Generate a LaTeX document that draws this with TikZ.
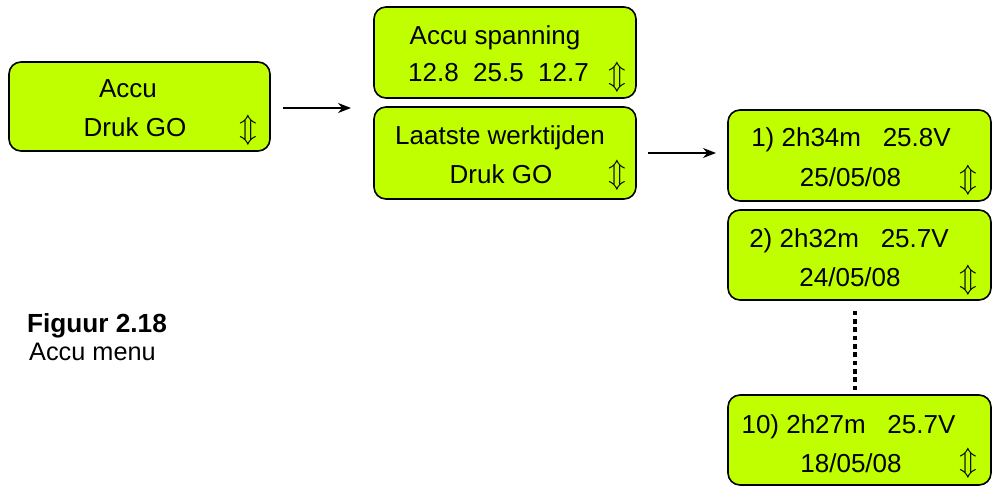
\documentclass[tikz,border=0pt]{standalone}
\usepackage{fontspec}
\setmainfont{Liberation Sans}
\usepackage{graphicx}
\usetikzlibrary{arrows.meta}
\definecolor{lcd}{RGB}{192,255,0}
\tikzset{
  lcdbox/.style={draw=black, line width=1.6pt, fill=lcd, rounded corners=12pt, inner sep=0pt},
  txt/.style={anchor=base, inner sep=0pt, font=\fontsize{26}{30}\selectfont},
  captxt/.style={anchor=base, inner sep=0pt, font=\fontsize{25.3}{28}\selectfont},
  updn/.style={inner sep=0pt},
  conn/.style={line width=1.4pt, -{Stealth[length=13pt,width=10pt]}},
  dots/.style={line width=4.6pt, dash pattern=on 4.7pt off 3.6pt}
}
\newcommand{\updnsym}{\scalebox{2.9}{$\Updownarrow$}}
\begin{document}
\begin{tikzpicture}[x=1pt,y=-1pt]
\useasboundingbox (0,0) rectangle (1004,486);
% boxes
\node[lcdbox, minimum width=261pt, minimum height=89pt] (A) at (139.5,106.5) {};
\node[lcdbox, minimum width=262pt, minimum height=91pt] (B) at (505,52.5) {};
\node[lcdbox, minimum width=262pt, minimum height=92pt] (C) at (505,153) {};
\node[lcdbox, minimum width=263pt, minimum height=91pt] (D1) at (859.5,155.5) {};
\node[lcdbox, minimum width=263pt, minimum height=90pt] (D2) at (859.5,255) {};
\node[lcdbox, minimum width=263pt, minimum height=90pt] (D10) at (859.5,440) {};
% texts A
\node[txt] (a1) at (128,98) {Accu};
\node[txt] (a2) at (135,137) {Druk GO};
\node[updn] (a3) at (248,130) {\updnsym};
% texts B
\node[txt] (b1) at (495,45) {Accu spanning};
\node[txt] (b2) at (498.5,82) {12.8\ \ 25.5\ \ 12.7};
\node[updn] (b3) at (617,77) {\updnsym};
% texts C
\node[txt] (c1) at (500,145) {Laatste werktijden};
\node[txt] (c2) at (501,184) {Druk GO};
\node[updn] (c3) at (617,175) {\updnsym};
% texts D1
\node[txt] (d11) at (851,147) {1) 2h34m\ \ \ 25.8V};
\node[txt] (d12) at (850.5,187) {25/05/08};
\node[updn] (d13) at (968,180) {\updnsym};
% texts D2
\node[txt] (d21) at (849,248) {2) 2h32m\ \ \ 25.7V};
\node[txt] (d22) at (850,287) {24/05/08};
\node[updn] (d23) at (968,280) {\updnsym};
% texts D10
\node[txt] (d101) at (848.5,433) {10) 2h27m\ \ \ 25.7V};
\node[txt] (d102) at (851,472) {18/05/08};
\node[updn] (d103) at (968,463) {\updnsym};
% caption
\node[captxt, font=\fontsize{26.2}{28}\selectfont\bfseries] (f1) at (97,332) {Figuur 2.18};
\node[captxt] (f2) at (92.5,360) {Accu menu};
% connectors
\coordinate (t1) at (351,108);
\coordinate (t2) at (716,153);
\draw[conn] (A.east |- t1) ++(12,0) -- (t1);
\draw[conn] (C.east |- t2) ++(11,0) -- (t2);
\draw[dots] ([xshift=-4.5pt,yshift=-10pt]D2.south) -- ([xshift=-4.5pt,yshift=3pt]D10.north);
\end{tikzpicture}
\end{document}
